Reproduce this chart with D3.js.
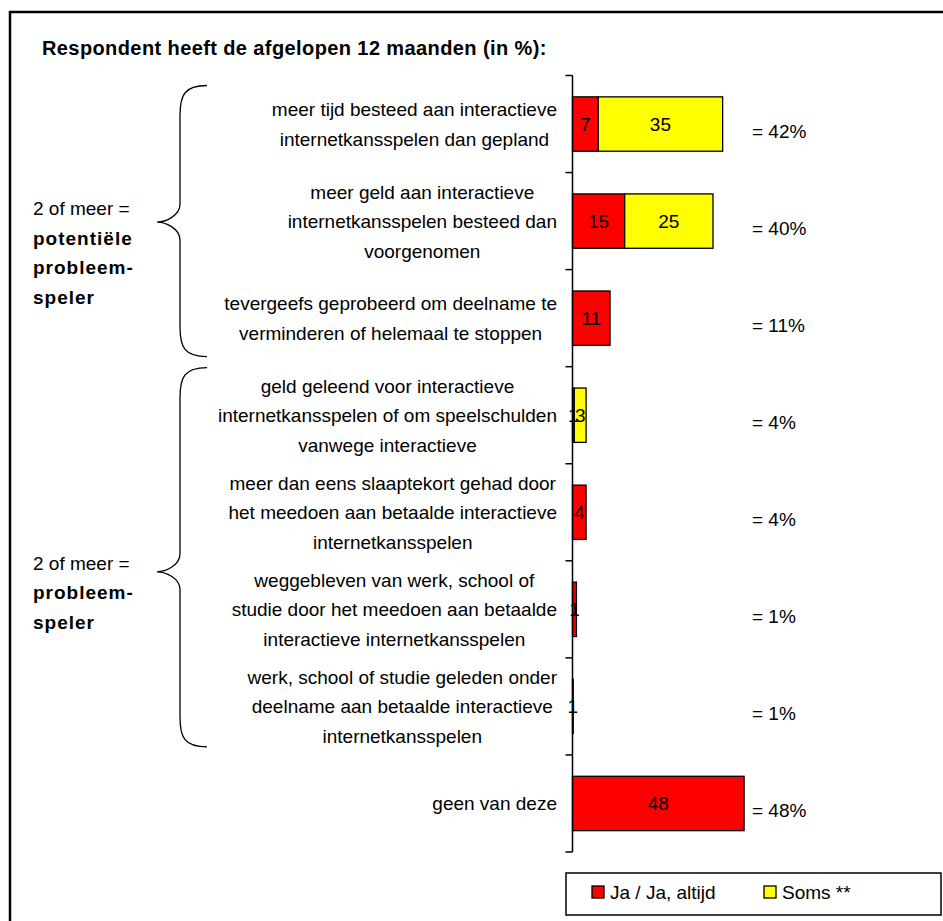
<!DOCTYPE html>
<html>
<head>
<meta charset="utf-8">
<script src="https://cdn.jsdelivr.net/npm/d3@7"></script>
<style>
  body { margin: 0; background: #fff; }
  svg text { font-family: "Liberation Sans", Arial, sans-serif; fill: #000; }
</style>
</head>
<body>
<svg class="chart"></svg>
<script>
var width = 943;
var height = 921;

// data
var categories = [
    ["meer tijd besteed aan interactieve", "internetkansspelen dan gepland"],
    ["meer geld aan interactieve", "internetkansspelen besteed dan", "voorgenomen"],
    ["tevergeefs geprobeerd om deelname te", "verminderen of helemaal te stoppen"],
    ["geld geleend voor interactieve", "internetkansspelen of om speelschulden", "vanwege interactieve"],
    ["meer dan eens slaaptekort gehad door", "het meedoen aan betaalde interactieve", "internetkansspelen"],
    ["weggebleven van werk, school of", "studie door het meedoen aan betaalde", "interactieve internetkansspelen"],
    ["werk, school of studie geleden onder", "deelname aan betaalde interactieve", "internetkansspelen"],
    ["geen van deze"]
];
var jaValues = [7.2, 14.6, 10.5, 0.5, 3.8, 1.1, 0.2, 48];
var jaLabels = ["7", "15", "11", "1", "4", "1", "1", "48"];
var somsValues = [34.8, 24.7, 0, 3.3, 0, 0, 0, 0];
var somsLabels = ["35", "25", "", "3", "", "", "", ""];
var totals = ["= 42%", "= 40%", "= 11%", "= 4%", "= 4%", "= 1%", "= 1%", "= 48%"];
var seriesNames = ["Ja / Ja, altijd", "Soms **"];
var seriesColors = ["#ff0000", "#ffff00"];
var groups = [
    {from: 0, to: 2, lines: ["2 of meer =", "potentiële", "probleem-", "speler"]},
    {from: 3, to: 6, lines: ["2 of meer =", "probleem-", "speler"]}
];
var title = "Respondent heeft de afgelopen 12 maanden (in %):";

var axisX = 572.5;
var lineH = 29.5;
var fs = "19px";

var chart = d3.select(".chart")
    .attr("width", width)
    .attr("height", height);

// outer frame (runs off right/bottom edge)
chart.append("rect")
    .attr("x", 10).attr("y", 12)
    .attr("width", 1000).attr("height", 1000)
    .attr("fill", "none")
    .attr("stroke", "#000")
    .attr("stroke-width", 2.5);

chart.append("text")
    .attr("x", 42).attr("y", 55)
    .style("font-size", "20px")
    .style("font-weight", "bold")
    .style("letter-spacing", "0.4px")
    .text(title);

var y = d3.scaleBand()
    .domain(d3.range(categories.length))
    .range([75.5, 852])
    .paddingInner(0.44)
    .paddingOuter(0.22);

var x = d3.scaleLinear()
    .domain([0, 48])
    .range([axisX, axisX + 48 * 3.575]);

var step = y.step();
var bandTop = function(i) { return 75.5 + i * step; };
var mid = function(i) { return y(i) + y.bandwidth() / 2; };

// bars
var g = chart.append("g");
var rows = categories.map(function(c, i) {
    return {i: i, ja: jaValues[i], soms: somsValues[i]};
});

g.selectAll("rect.ja")
    .data(rows.filter(function(d) { return d.ja > 0; }))
    .enter().append("rect")
    .attr("class", "ja")
    .attr("x", x(0))
    .attr("y", function(d) { return y(d.i); })
    .attr("width", function(d) { return x(d.ja) - x(0); })
    .attr("height", y.bandwidth())
    .attr("fill", seriesColors[0])
    .attr("stroke", "#000")
    .attr("stroke-width", 1.3);

g.selectAll("rect.soms")
    .data(rows.filter(function(d) { return d.soms > 0; }))
    .enter().append("rect")
    .attr("class", "soms")
    .attr("x", function(d) { return x(d.ja); })
    .attr("y", function(d) { return y(d.i); })
    .attr("width", function(d) { return x(d.ja + d.soms) - x(d.ja); })
    .attr("height", y.bandwidth())
    .attr("fill", seriesColors[1])
    .attr("stroke", "#000")
    .attr("stroke-width", 1.3);

// value labels
g.selectAll("text.jaLab")
    .data(rows)
    .enter().append("text")
    .attr("class", "jaLab")
    .attr("x", function(d) { return (x(0) + x(d.ja)) / 2; })
    .attr("y", function(d) { return mid(d.i) + 7; })
    .attr("text-anchor", "middle")
    .style("font-size", fs)
    .text(function(d) { return jaLabels[d.i]; });

g.selectAll("text.somsLab")
    .data(rows.filter(function(d) { return d.soms > 0; }))
    .enter().append("text")
    .attr("class", "somsLab")
    .attr("x", function(d) { return (x(d.ja) + x(d.ja + d.soms)) / 2; })
    .attr("y", function(d) { return mid(d.i) + 7; })
    .attr("text-anchor", "middle")
    .style("font-size", fs)
    .text(function(d) { return somsLabels[d.i]; });

// axis line and ticks between categories
chart.append("line")
    .attr("x1", axisX).attr("x2", axisX)
    .attr("y1", bandTop(0)).attr("y2", bandTop(categories.length))
    .attr("stroke", "#000").attr("stroke-width", 1.5);

chart.selectAll("line.tick")
    .data(d3.range(categories.length + 1))
    .enter().append("line")
    .attr("class", "tick")
    .attr("x1", axisX - 7).attr("x2", axisX)
    .attr("y1", function(d) { return bandTop(d); })
    .attr("y2", function(d) { return bandTop(d); })
    .attr("stroke", "#000").attr("stroke-width", 1.5);

// category labels: block right-aligned, lines centered in block
var labRight = 557;
categories.forEach(function(lines, i) {
    var lg = chart.append("g");
    var texts = lg.selectAll("text")
        .data(lines)
        .enter().append("text")
        .attr("y", function(d, k) {
            return mid(i) + (k - (lines.length - 1) / 2) * lineH + 7;
        })
        .attr("text-anchor", "middle")
        .style("font-size", fs)
        .text(function(d) { return d; });
    var maxW = 0;
    texts.each(function() { maxW = Math.max(maxW, this.getComputedTextLength()); });
    texts.attr("x", labRight - maxW / 2);
});

// totals
chart.selectAll("text.total")
    .data(totals)
    .enter().append("text")
    .attr("class", "total")
    .attr("x", 752)
    .attr("y", function(d, i) { return mid(i) + 14; })
    .style("font-size", fs)
    .text(function(d) { return d; });

// braces with group labels
function bracePath(top, bottom, tip) {
    var xe = 207, xs = 180, xt = 157;
    return "M" + xe + "," + top +
        "C" + (xs + 4) + "," + top + " " + xs + "," + (top + 10) + " " + xs + "," + (top + 30) +
        "L" + xs + "," + (tip - 18) +
        "C" + xs + "," + (tip - 6) + " " + (xt + 8) + "," + tip + " " + xt + "," + tip +
        "C" + (xt + 8) + "," + tip + " " + xs + "," + (tip + 6) + " " + xs + "," + (tip + 18) +
        "L" + xs + "," + (bottom - 30) +
        "C" + xs + "," + (bottom - 10) + " " + (xs + 4) + "," + bottom + " " + xe + "," + bottom;
}

var braceInfo = [
    {top: bandTop(0) + 10, bottom: bandTop(3) - 10, tip: (bandTop(0) + bandTop(3)) / 2 + 1, textTop: -14},
    {top: bandTop(3) + 1, bottom: bandTop(7) - 8, tip: (bandTop(3) + bandTop(7)) / 2 + 11, textTop: -9}
];

groups.forEach(function(gr, j) {
    var b = braceInfo[j];
    chart.append("path")
        .attr("d", bracePath(b.top, b.bottom, b.tip))
        .attr("fill", "none")
        .attr("stroke", "#000")
        .attr("stroke-width", 1.3);
    chart.selectAll("text.grp" + j)
        .data(gr.lines)
        .enter().append("text")
        .attr("x", 33)
        .attr("y", function(d, k) { return b.tip + b.textTop + k * lineH + 7; })
        .style("font-size", fs)
        .style("font-weight", function(d, k) { return k === 0 ? "normal" : "bold"; })
        .style("letter-spacing", function(d, k) { return k === 0 ? "0px" : "1px"; })
        .text(function(d) { return d; });
});

// legend
var legend = chart.append("g");
legend.append("rect")
    .attr("x", 566).attr("y", 873)
    .attr("width", 375).attr("height", 42)
    .attr("fill", "#fff")
    .attr("stroke", "#000")
    .attr("stroke-width", 1.5);

var legX = [592, 764];
seriesNames.forEach(function(name, k) {
    legend.append("rect")
        .attr("x", legX[k]).attr("y", 886)
        .attr("width", 12).attr("height", 12)
        .attr("fill", seriesColors[k])
        .attr("stroke", "#000")
        .attr("stroke-width", 1.3);
    legend.append("text")
        .attr("x", legX[k] + 18).attr("y", 899)
        .style("font-size", fs)
        .text(name);
});
</script>
</body>
</html>
